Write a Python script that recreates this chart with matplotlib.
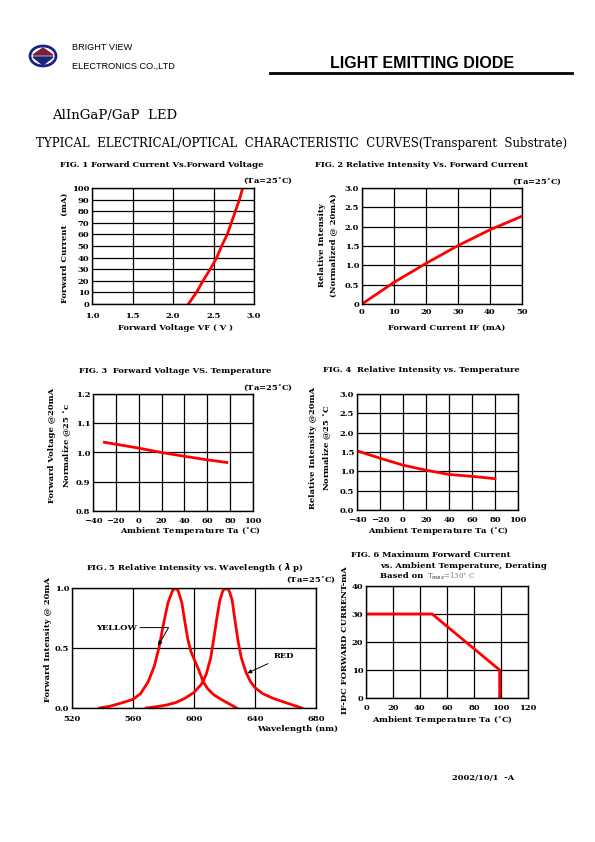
import matplotlib
matplotlib.use('Agg')
import matplotlib.pyplot as plt
from matplotlib.patches import Ellipse, Polygon

#------------------------------------------------------------------------------
# Data
#------------------------------------------------------------------------------
# FIG. 1 forward current vs forward voltage
vf = [2.19, 2.29, 2.37, 2.46, 2.54, 2.60, 2.67, 2.72, 2.77, 2.82, 2.86]
i_f = [0, 10, 20, 30, 40, 50, 60, 70, 80, 90, 100]

# FIG. 2 relative intensity vs forward current
if2 = [0, 10, 20, 30, 40, 50]
rel2 = [0.0, 0.56, 1.05, 1.51, 1.92, 2.27]

# FIG. 3 forward voltage vs temperature
ta3 = [-30, 0, 20, 40, 60, 77]
vf3 = [1.035, 1.015, 1.0, 0.987, 0.975, 0.966]

# FIG. 4 relative intensity vs temperature
ta4 = [-40, -20, 0, 20, 40, 60, 80]
rel4 = [1.53, 1.34, 1.16, 1.03, 0.92, 0.87, 0.81]

# FIG. 5 spectra
wl_yel = [538, 545, 552, 560, 565, 570, 574, 577, 580, 583, 586, 587.7, 589.5,
          592, 594, 596, 598, 600, 603, 606, 609, 613, 618, 623, 628]
int_yel = [0.0, 0.015, 0.04, 0.072, 0.12, 0.22, 0.35, 0.5, 0.7, 0.88, 0.98, 1.0, 0.98,
           0.88, 0.72, 0.57, 0.47, 0.41, 0.32, 0.22, 0.16, 0.11, 0.07, 0.035, 0.0]
wl_red = [568.7, 575, 582, 588, 594, 600, 605, 608, 611, 613, 615, 617, 619, 621,
          623, 625, 627, 629, 631, 634, 637, 640, 645, 652, 660, 670.7]
int_red = [0.0, 0.01, 0.025, 0.045, 0.08, 0.13, 0.2, 0.28, 0.42, 0.58, 0.75, 0.9, 0.98, 1.0,
           0.98, 0.9, 0.72, 0.55, 0.42, 0.3, 0.22, 0.17, 0.12, 0.08, 0.045, 0.0]

# FIG. 6 derating
ta6 = [0, 49, 99, 99]
imax6 = [30, 30, 10, 0]

W, H = 595, 842
FS = 6
plt.rcParams['font.family'] = 'DejaVu Serif'
plt.rcParams['font.weight'] = 'bold'
plt.rcParams['font.size'] = FS

fig = plt.figure(figsize=(W/100, H/100), dpi=100)


def px_axes(l, t, r, b):
    return fig.add_axes([l/W, 1-b/H, (r-l)/W, (b-t)/H])


def txt(x, y, s, **kw):
    kw.setdefault('va', 'center')
    kw.setdefault('ha', 'left')
    fig.text(x/W, 1-y/H, s, **kw)


def style(ax, xlim, ylim, xt, yt, xtl=None, ytl=None, xpad=2):
    ax.set_xlim(xlim)
    ax.set_ylim(ylim)
    ax.set_xticks(xt)
    ax.set_yticks(yt)
    if xtl is not None:
        ax.set_xticklabels(xtl)
    if ytl is not None:
        ax.set_yticklabels(ytl)
    ax.grid(True, color='black', linewidth=0.9)
    ax.tick_params(length=0, pad=2, labelsize=FS)
    ax.xaxis.set_tick_params(pad=xpad)
    for s in ax.spines.values():
        s.set_linewidth(1.0)


# header
el = Ellipse((43/W, 1-56/H), 26/W, 20/H, facecolor='white', edgecolor='#1a237e', linewidth=2, transform=fig.transFigure)
fig.patches.append(el)
fig.patches.append(Polygon([(33/W, 1-55/H), (53/W, 1-55/H), (43/W, 1-48/H)], closed=True, color='#7b1f3a', transform=fig.transFigure))
fig.patches.append(Polygon([(33/W, 1-57/H), (53/W, 1-57/H), (43/W, 1-65/H)], closed=True, color='#1a237e', transform=fig.transFigure))
txt(72, 47, 'BRIGHT VIEW', family='Liberation Sans', weight='normal', fontsize=6.6)
txt(72, 66, 'ELECTRONICS CO.,LTD', family='Liberation Sans', weight='normal', fontsize=6.6)
txt(330, 63, 'LIGHT EMITTING DIODE', family='Liberation Sans', weight='bold', fontsize=11.5)
fig.add_artist(plt.Line2D([270/W, 572/W], [1-73/H, 1-73/H], color='black', linewidth=2, transform=fig.transFigure))
txt(52, 116, 'AlInGaP/GaP  LED', family='DejaVu Serif', weight='normal', fontsize=9.5)
txt(36, 143, 'TYPICAL  ELECTRICAL/OPTICAL  CHARACTERISTIC  CURVES(Transparent  Substrate)',
    family='DejaVu Serif', weight='normal', fontsize=8.5)

# FIG. 1
ax1 = px_axes(92, 188, 254, 304)
ax1.plot(vf, i_f, color='red', linewidth=2)
style(ax1, (1.0, 3.0), (0, 100), [1.0, 1.5, 2.0, 2.5, 3.0], range(0, 101, 10),
      ['1.0', '1.5', '2.0', '2.5', '3.0'], xpad=6)
txt(60, 165, 'FIG. 1 Forward Current Vs.Forward Voltage')
txt(243, 181, '(Ta=25$^{\\circ}$C)')
txt(65, 248, 'Forward Current   (mA)', rotation=90, ha='center')
txt(118, 328, 'Forward Voltage VF ( V )')

# FIG. 2
ax2 = px_axes(362, 188, 522, 304)
ax2.plot(if2, rel2, color='red', linewidth=2)
style(ax2, (0, 50), (0, 3.0), range(0, 51, 10), [0, 0.5, 1.0, 1.5, 2.0, 2.5, 3.0],
      None, ['0', '0.5', '1.0', '1.5', '2.0', '2.5', '3.0'], xpad=3)
txt(315, 165, 'FIG. 2 Relative Intensity Vs. Forward Current')
txt(512, 182, '(Ta=25$^{\\circ}$C)')
txt(322, 245, 'Relative Intensity', rotation=90, ha='center')
txt(333, 245, '(Normalized @ 20mA)', rotation=90, ha='center')
txt(388, 328, 'Forward Current IF (mA)')

# FIG. 3
ax3 = px_axes(93, 394, 253, 511)
ax3.plot(ta3, vf3, color='red', linewidth=2)
style(ax3, (-40, 100), (0.8, 1.2), range(-40, 101, 20), [0.8, 0.9, 1.0, 1.1, 1.2],
      None, ['0.8', '0.9', '1.0', '1.1', '1.2'], xpad=4)
txt(79, 371, 'FIG. 3  Forward Voltage VS. Temperature')
txt(243, 388, '(Ta=25$^{\\circ}$C)')
txt(52, 445, 'Forward Voltage @20mA', rotation=90, ha='center')
txt(68, 445, 'Normalize @25 $^{\\circ}$c', rotation=90, ha='center')
txt(120, 532, 'Ambient Temperature Ta ($^{\\circ}$C)')

# FIG. 4
ax4 = px_axes(357, 394, 518, 510)
ax4.plot(ta4, rel4, color='red', linewidth=2)
style(ax4, (-40, 100), (0, 3.0), range(-40, 101, 20), [0, 0.5, 1.0, 1.5, 2.0, 2.5, 3.0],
      None, ['0.0', '0.5', '1.0', '1.5', '2.0', '2.5', '3.0'], xpad=4)
txt(323, 370, 'FIG. 4  Relative Intensity vs. Temperature')
txt(313, 448, 'Relative Intensity @20mA', rotation=90, ha='center')
txt(328, 448, 'Normalize @25 $^{\\circ}$C', rotation=90, ha='center')
txt(368, 532, 'Ambient Temperature Ta ($^{\\circ}$C)')

# FIG. 5
ax5 = px_axes(72, 588, 316, 708)
ax5.plot(wl_yel, int_yel, color='red', linewidth=2)
ax5.plot(wl_red, int_red, color='red', linewidth=2)
style(ax5, (520, 680), (0, 1.0), range(520, 681, 40), [0, 0.5, 1.0],
      None, ['0.0', '0.5', '1.0'], xpad=5)
ax5.annotate('YELLOW', xy=(576.5, 0.52), xytext=(536, 0.67), fontsize=FS, va='center',
             arrowprops=dict(arrowstyle='-|>', color='black', lw=0.7, shrinkA=0, shrinkB=0,
                             connectionstyle='angle,angleA=0,angleB=60,rad=0'))
ax5.annotate('RED', xy=(635, 0.29), xytext=(652, 0.43), fontsize=FS, va='center',
             arrowprops=dict(arrowstyle='-|>', color='black', lw=0.7, shrinkA=2, shrinkB=0))
txt(86, 568, 'FIG. 5 Relative Intensity vs. Wavelength ( $\\lambda$ p)')
txt(286, 580, '(Ta=25$^{\\circ}$C)')
txt(48, 640, 'Forward Intensity @ 20mA', rotation=90, ha='center')
txt(257, 729, 'Wavelength (nm)')

# FIG. 6
ax6 = px_axes(366, 586, 528, 698)
ax6.plot(ta6, imax6, color='red', linewidth=2)
style(ax6, (0, 120), (0, 40), range(0, 121, 20), range(0, 41, 10), xpad=4)
txt(351, 555, 'FIG. 6 Maximum Forward Current')
txt(380, 566, 'vs. Ambient Temperature, Derating')
txt(380, 576, 'Based on')
txt(427, 576, 'T$_{max}$=130$^{\\circ}$ C', color='#777777', weight='normal', fontsize=5)
txt(345, 640, 'IF-DC FORWARD CURRENT-mA', rotation=90, ha='center')
txt(372, 721, 'Ambient Temperature Ta ($^{\\circ}$C)')

txt(452, 778, '2002/10/1  -A')

fig.savefig('out.png', dpi=100)
